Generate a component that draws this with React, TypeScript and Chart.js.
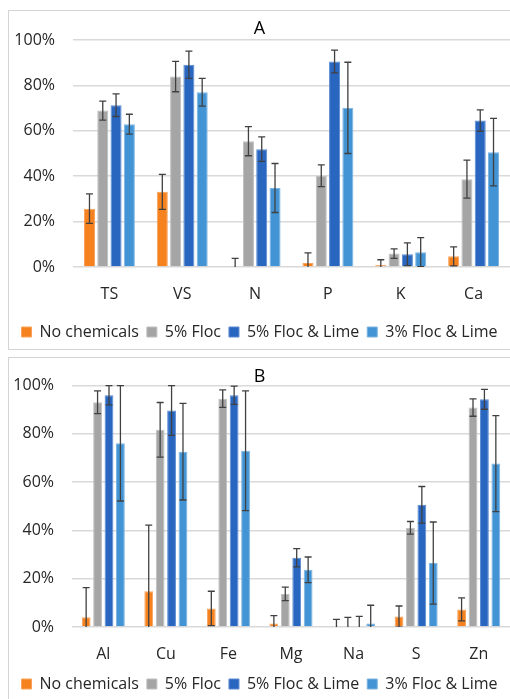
import React, { useEffect, useRef } from 'react';
import { Chart, registerables } from 'chart.js';

Chart.register(...registerables);

const FONT = '"Open Sans", "Noto Sans", sans-serif';

const seriesNames = ['No chemicals', '5% Floc', '5% Floc & Lime', '3% Floc & Lime'];
const seriesColors = ['#F5821F', '#A5A5A5', '#2966C0', '#4294D4'];
const seriesEdges = ['#F9A25C', '#BFBFBF', '#5A8AD2', '#7AB4E2'];

const yTicks = [0, 20, 40, 60, 80, 100];

// Panel A
const categoriesA = ['TS', 'VS', 'N', 'P', 'K', 'Ca'];
const noChemA = [25.7, 33.1, 0, 1.8, 0.9, 4.7];
const floc5A = [68.9, 83.9, 55.4, 40.2, 5.9, 38.7];
const flocLime5A = [71.3, 89.1, 51.9, 90.5, 5.6, 64.5];
const flocLime3A = [62.9, 77.0, 34.8, 70.1, 6.5, 50.6];
const noChemErrA = [6.5, 7.7, 3.8, 4.4, 2.3, 4.2];
const floc5ErrA = [4.2, 6.7, 6.4, 4.8, 2.1, 8.4];
const flocLime5ErrA = [5.0, 6.0, 5.4, 5.0, 5.0, 4.7];
const flocLime3ErrA = [4.4, 6.1, 10.8, 20.1, 6.4, 14.9];

// Panel B
const categoriesB = ['Al', 'Cu', 'Fe', 'Mg', 'Na', 'S', 'Zn'];
const noChemB = [4.0, 14.8, 7.7, 1.4, 0, 4.3, 7.3];
const floc5B = [93.1, 81.7, 94.6, 13.7, 0.3, 41.1, 90.9];
const flocLime5B = [96.0, 89.7, 96.0, 28.7, 0, 50.6, 94.3];
const flocLime3B = [76.1, 72.6, 73.0, 23.7, 1.4, 26.5, 67.7];
const noChemErrB = [12.3, 27.4, 7.1, 3.3, 3.2, 4.4, 4.8];
const floc5ErrB = [4.7, 11.3, 3.6, 2.8, 3.7, 2.6, 3.6];
const flocLime5ErrB = [4.0, 10.3, 3.8, 3.8, 4.4, 7.6, 4.1];
const flocLime3ErrB = [23.9, 20.0, 24.8, 5.3, 7.6, 17.0, 19.9];

function makeErrorBarPlugin(errors: number[][]) {
  return {
    id: 'errorBars',
    afterDatasetsDraw(chart: any) {
      const ctx = chart.ctx;
      const yScale = chart.scales.y;
      const area = chart.chartArea;
      ctx.save();
      ctx.beginPath();
      ctx.rect(area.left, area.top - 1, area.right - area.left, area.bottom - area.top + 1);
      ctx.clip();
      ctx.strokeStyle = '#404040';
      ctx.lineWidth = 1.3;
      chart.data.datasets.forEach((ds: any, i: number) => {
        const meta = chart.getDatasetMeta(i);
        meta.data.forEach((bar: any, j: number) => {
          const v = ds.data[j];
          const e = errors[i][j];
          const x = bar.x;
          const yT = yScale.getPixelForValue(v + e);
          const yB = yScale.getPixelForValue(v - e);
          const cap = 3.5;
          ctx.beginPath();
          ctx.moveTo(x, yT);
          ctx.lineTo(x, yB);
          ctx.moveTo(x - cap, yT);
          ctx.lineTo(x + cap, yT);
          ctx.moveTo(x - cap, yB);
          ctx.lineTo(x + cap, yB);
          ctx.stroke();
        });
      });
      ctx.restore();
    },
  };
}

type PanelProps = {
  top: number;
  height: number;
  title: string;
  titlePadTop: number;
  titlePadBottom: number;
  categories: string[];
  series: number[][];
  errors: number[][];
  axisHeight: number;
  yWidth: number;
  barPct: number;
};

function Panel(p: PanelProps) {
  const ref = useRef<HTMLCanvasElement | null>(null);
  useEffect(() => {
    if (!ref.current) return;
    const tickFont = { family: FONT, size: 16 };
    const chart = new Chart(ref.current, {
      type: 'bar',
      data: {
        labels: p.categories,
        datasets: p.series.map((d, i) => ({
          label: seriesNames[i],
          data: d,
          backgroundColor: seriesColors[i],
          borderColor: seriesEdges[i],
          borderWidth: 1,
          categoryPercentage: 0.73,
          barPercentage: p.barPct,
        })),
      },
      options: {
        responsive: false,
        animation: false,
        layout: { padding: 0 },
        plugins: {
          title: {
            display: true,
            text: p.title,
            color: '#000',
            font: { family: FONT, size: 18, weight: 'normal', lineHeight: 1 },
            padding: { top: p.titlePadTop, bottom: p.titlePadBottom },
          },
          legend: {
            position: 'bottom',
            labels: {
              boxWidth: 10,
              boxHeight: 10,
              padding: 8,
              color: '#262626',
              font: { family: FONT, size: 16 },
            },
          },
          tooltip: { enabled: false },
        },
        scales: {
          x: {
            grid: { display: false, drawTicks: false },
            border: { display: false },
            ticks: { padding: 18, color: '#262626', font: tickFont },
            afterFit: (s: any) => {
              s.height = p.axisHeight;
            },
          },
          y: {
            min: 0,
            max: 100,
            afterBuildTicks: (s: any) => {
              s.ticks = yTicks.map((v) => ({ value: v }));
            },
            ticks: {
              padding: 18,
              color: '#262626',
              font: tickFont,
              callback: (v: any) => v + '%',
            },
            grid: { color: '#D9D9D9', lineWidth: 1.5, drawTicks: false },
            border: { display: false },
            afterFit: (s: any) => {
              s.width = p.yWidth;
            },
          },
        },
      } as any,
      plugins: [makeErrorBarPlugin(p.errors)],
    });
    return () => chart.destroy();
  }, []);
  return (
    <canvas
      ref={ref}
      width={501}
      height={p.height}
      style={{ position: 'absolute', left: 9, top: p.top, width: 501, height: p.height }}
    />
  );
}

export default function App() {
  return (
    <div
      style={{
        position: 'absolute',
        left: 0,
        top: 0,
        width: 510,
        height: 699,
        overflow: 'hidden',
        background: '#fff',
      }}
    >
      <div
        style={{
          position: 'absolute',
          left: 8,
          top: 10,
          width: 600,
          height: 340,
          boxSizing: 'border-box',
          border: '1px solid #d4d4d4',
        }}
      />
      <div
        style={{
          position: 'absolute',
          left: 8,
          top: 357,
          width: 600,
          height: 400,
          boxSizing: 'border-box',
          border: '1px solid #d4d4d4',
        }}
      />
      <Panel
        top={11}
        height={339}
        title="A"
        titlePadTop={9}
        titlePadBottom={2}
        categories={categoriesA}
        series={[noChemA, floc5A, flocLime5A, flocLime3A]}
        errors={[noChemErrA, floc5ErrA, flocLime5ErrA, flocLime3ErrA]}
        axisHeight={49}
        yWidth={64}
        barPct={0.83}
      />
      <Panel
        top={358}
        height={344}
        title="B"
        titlePadTop={9.5}
        titlePadBottom={0}
        categories={categoriesB}
        series={[noChemB, floc5B, flocLime5B, flocLime3B]}
        errors={[noChemErrB, floc5ErrB, flocLime5ErrB, flocLime3ErrB]}
        axisHeight={41}
        yWidth={63}
        barPct={0.77}
      />
    </div>
  );
}
